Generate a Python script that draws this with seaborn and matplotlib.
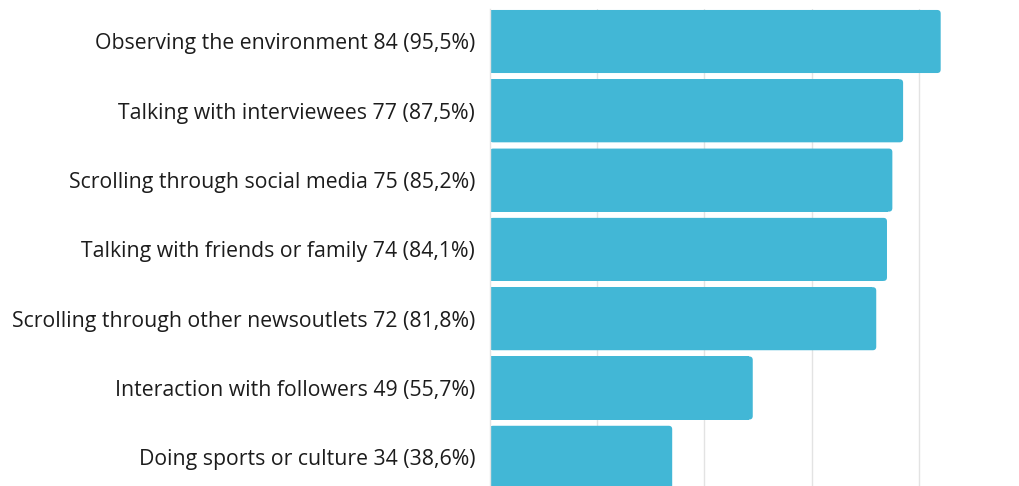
import matplotlib
matplotlib.use("Agg")
import matplotlib.pyplot as plt
from matplotlib.patches import FancyBboxPatch, Rectangle
import seaborn as sns
import pandas as pd

# Survey answers: where inspiration for stories comes from
activities = [
    "Observing the environment",
    "Talking with interviewees",
    "Scrolling through social media",
    "Talking with friends or family",
    "Scrolling through other newsoutlets",
    "Interaction with followers",
    "Doing sports or culture",
]
counts = [84, 77, 75, 74, 72, 49, 34]
shares = ["95,5%", "87,5%", "85,2%", "84,1%", "81,8%", "55,7%", "38,6%"]

labels = [f"{a} {c} ({s})" for a, c, s in zip(activities, counts, shares)]
df = pd.DataFrame({"label": labels, "count": counts})

sns.set_theme(style="white")
plt.rcParams["font.family"] = ["Open Sans", "DejaVu Sans"]

BAR_COLOR = "#42b7d6"

fig = plt.figure(figsize=(10.19, 4.86), dpi=100)
ax = fig.add_axes([0.4805, 0.0, 0.5195, 0.9815])

sns.barplot(data=df, x="count", y="label", orient="h", color=BAR_COLOR,
            width=0.91, saturation=1, ax=ax, zorder=2)

# Rounded right-hand corners for each bar
px_x = 5.37      # pixels per count unit
px_y = 69.3      # pixels per category step
r_px = 3.5
r_x = r_px / px_x
aspect = (r_px / px_y) / r_x
for p in list(ax.patches):
    x0, y0 = p.get_x(), p.get_y()
    w, h = p.get_width(), p.get_height()
    p.remove()
    ax.add_patch(Rectangle((x0, y0), w - r_x * 1.2, h, facecolor=BAR_COLOR,
                           edgecolor="none", zorder=2))
    ax.add_patch(FancyBboxPatch((x0, y0), w, h,
                                boxstyle=f"round,pad=0,rounding_size={r_x}",
                                mutation_aspect=aspect,
                                facecolor=BAR_COLOR, edgecolor="none", zorder=2))

ax.set_xlim(0, (1019 - 489.6) / px_x)
ax.set_ylim(6.414, -0.469)
ax.set_xticks([20, 40, 60, 80])
ax.xaxis.grid(True, color="#e3e3e3", linewidth=1.0, zorder=0)
ax.set_axisbelow(True)
ax.tick_params(axis="x", length=0, labelbottom=False)
ax.tick_params(axis="y", length=0, pad=10.5, labelsize=15.35, labelcolor="#1c1c1c")
ax.set_xlabel("")
ax.set_ylabel("")
for side in ["top", "right", "bottom"]:
    ax.spines[side].set_visible(False)
ax.spines["left"].set_color("#e3e3e3")
ax.spines["left"].set_linewidth(1.0)

fig.savefig("out.png", dpi=100, facecolor="white")
